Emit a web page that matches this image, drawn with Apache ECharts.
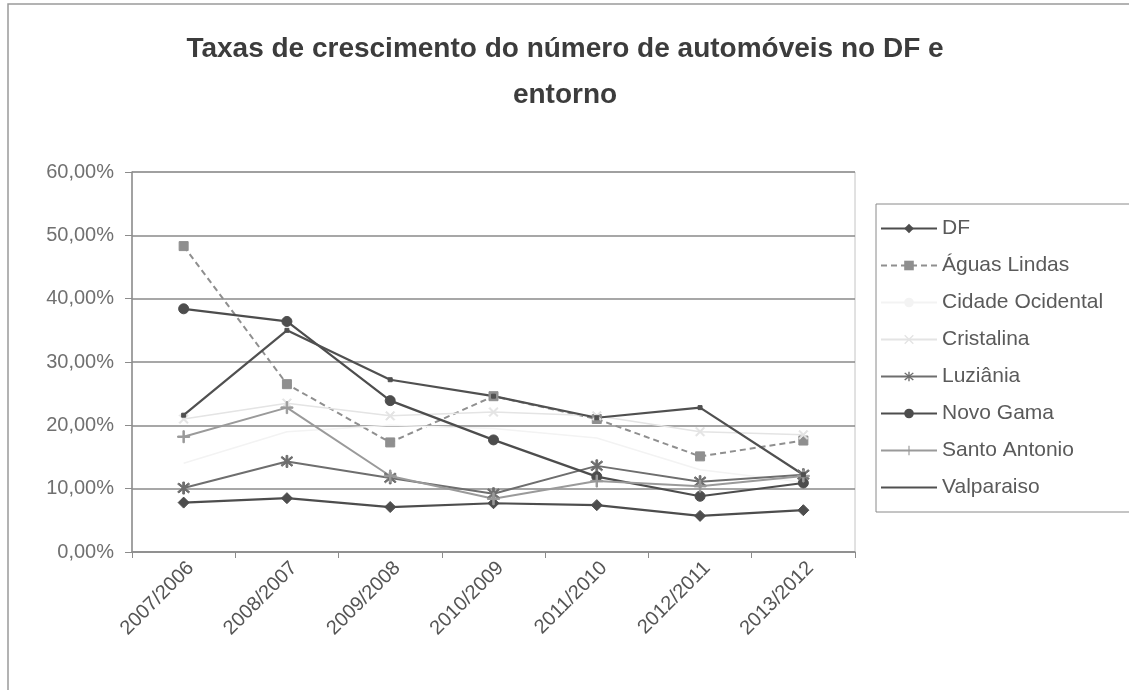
<!DOCTYPE html>
<html>
<head>
<meta charset="utf-8">
<script src="https://cdn.jsdelivr.net/npm/echarts@6/dist/echarts.min.js"></script>
<style>
  html, body { margin: 0; padding: 0; background: #fff; }
  #chart { width: 1129px; height: 690px; }
</style>
</head>
<body>
<div id="chart"></div>
<script>
// Periods compared (year over previous year)
const categories = ['2007/2006', '2008/2007', '2009/2008', '2010/2009', '2011/2010', '2012/2011', '2013/2012'];

// Growth rates of the car fleet, in percent
const df              = [7.8, 8.5, 7.1, 7.7, 7.4, 5.7, 6.6];
const aguasLindas     = [48.3, 26.5, 17.3, 24.6, 21.0, 15.1, 17.6];
const cidadeOcidental = [14.0, 19.0, 20.0, 19.5, 18.0, 13.0, 11.0];
const cristalina      = [21.0, 23.5, 21.5, 22.1, 21.5, 19.0, 18.5];
const luziania        = [10.1, 14.3, 11.7, 9.2, 13.6, 11.1, 12.2];
const novoGama        = [38.4, 36.4, 23.9, 17.7, 11.9, 8.8, 10.9];
const santoAntonio    = [18.2, 22.8, 12.0, 8.4, 11.2, 10.4, 12.0];
const valparaiso      = [21.6, 35.0, 27.2, 24.6, 21.2, 22.8, 12.2];

const yTicks = { min: 0, max: 60, interval: 10 };

const FONT = '"Liberation Sans", Arial, sans-serif';

// marker shapes
const PLUS = 'path://M4.4,0h1.2v4.4h4.4v1.2h-4.4v4.4h-1.2v-4.4h-4.4v-1.2h4.4z';
const STAR = 'path://M4.4,0h1.2v10h-1.2z M0.9,1.7l0.85,-0.85l7.35,7.35l-0.85,0.85z M8.25,0.85l0.85,0.85l-7.35,7.35l-0.85,-0.85z';
const CROSS = 'path://M0,1l1,-1l4,4l4,-4l1,1l-4,4l4,4l-1,1l-4,-4l-4,4l-1,-1l4,-4z';

function line(name, data, color, symbol, size, dashed, width) {
  return {
    name, type: 'line', data,
    symbol, symbolSize: size, showSymbol: symbol !== 'none',
    lineStyle: { color, width: width || 2, type: dashed ? [6, 4] : 'solid' },
    itemStyle: { color, borderColor: color },
    emphasis: { disabled: true },
    animation: false,
    z: 3
  };
}

const legendNames = ['DF', 'Águas Lindas', 'Cidade Ocidental', 'Cristalina', 'Luziânia', 'Novo Gama', 'Santo Antonio', 'Valparaiso'];

const chart = echarts.init(document.getElementById('chart'));
chart.setOption({
  backgroundColor: '#fff',
  title: {
    text: 'Taxas de crescimento do número de automóveis no DF e\nentorno',
    left: 560, top: 21, textAlign: 'center',
    textStyle: { fontFamily: FONT, fontSize: 28, fontWeight: 'bold', color: '#3c3c3c', lineHeight: 46 }
  },
  graphic: [
    { type: 'rect', shape: { x: 8, y: 4, width: 1200, height: 700 }, style: { fill: 'none', stroke: '#9a9a9a', lineWidth: 1.5 }, silent: true }
  ],
  grid: { left: 132, top: 172, width: 723, height: 380, show: true, borderColor: '#c4c4c4', borderWidth: 1, backgroundColor: 'transparent' },
  legend: {
    orient: 'vertical', left: 876, top: 204,
    padding: [14, 60, 14, 4],
    itemWidth: 56, itemHeight: 12, itemGap: 16,
    borderColor: '#8a8a8a', borderWidth: 1,
    textStyle: { fontFamily: FONT, fontSize: 21, color: '#5a5a5a' },
    data: legendNames.map(n => n === 'Valparaiso'
      ? { name: n, itemStyle: { opacity: 0 } }
      : { name: n })
  },
  xAxis: {
    type: 'category', data: categories, boundaryGap: true,
    axisLine: { lineStyle: { color: '#8c8c8c', width: 1.5 } },
    axisTick: { show: true, length: 6, lineStyle: { color: '#8c8c8c' } },
    axisLabel: { rotate: 45, fontFamily: FONT, fontSize: 20, color: '#555', margin: 6,
      verticalAlign: 'top', interval: 0 }
  },
  yAxis: {
    type: 'value', min: yTicks.min, max: yTicks.max, interval: yTicks.interval,
    axisLine: { show: true, lineStyle: { color: '#8c8c8c', width: 1.5 } },
    axisTick: { show: true, inside: false, length: 7, lineStyle: { color: '#8c8c8c' } },
    splitLine: { lineStyle: { color: '#8a8a8a', width: 1.5 } },
    axisLabel: { fontFamily: FONT, fontSize: 20, color: '#707070', margin: 18,
      formatter: v => v.toFixed(2).replace('.', ',') + '%' }
  },
  series: [
    line('DF', df, '#4d4d4d', 'diamond', 11, false, 2.2),
    line('Águas Lindas', aguasLindas, '#8f8f8f', 'rect', 9, true, 2),
    line('Cidade Ocidental', cidadeOcidental, '#f3f3f3', 'none', 6, false, 1.5),
    line('Cristalina', cristalina, '#e4e4e4', CROSS, 9, false, 1.5),
    line('Luziânia', luziania, '#6e6e6e', STAR, 12, false, 2),
    line('Novo Gama', novoGama, '#4d4d4d', 'circle', 10, false, 2.2),
    line('Santo Antonio', santoAntonio, '#9a9a9a', PLUS, 12, false, 2),
    line('Valparaiso', valparaiso, '#505050', 'rect', 4, false, 2.2)
  ]
});
</script>
</body>
</html>
